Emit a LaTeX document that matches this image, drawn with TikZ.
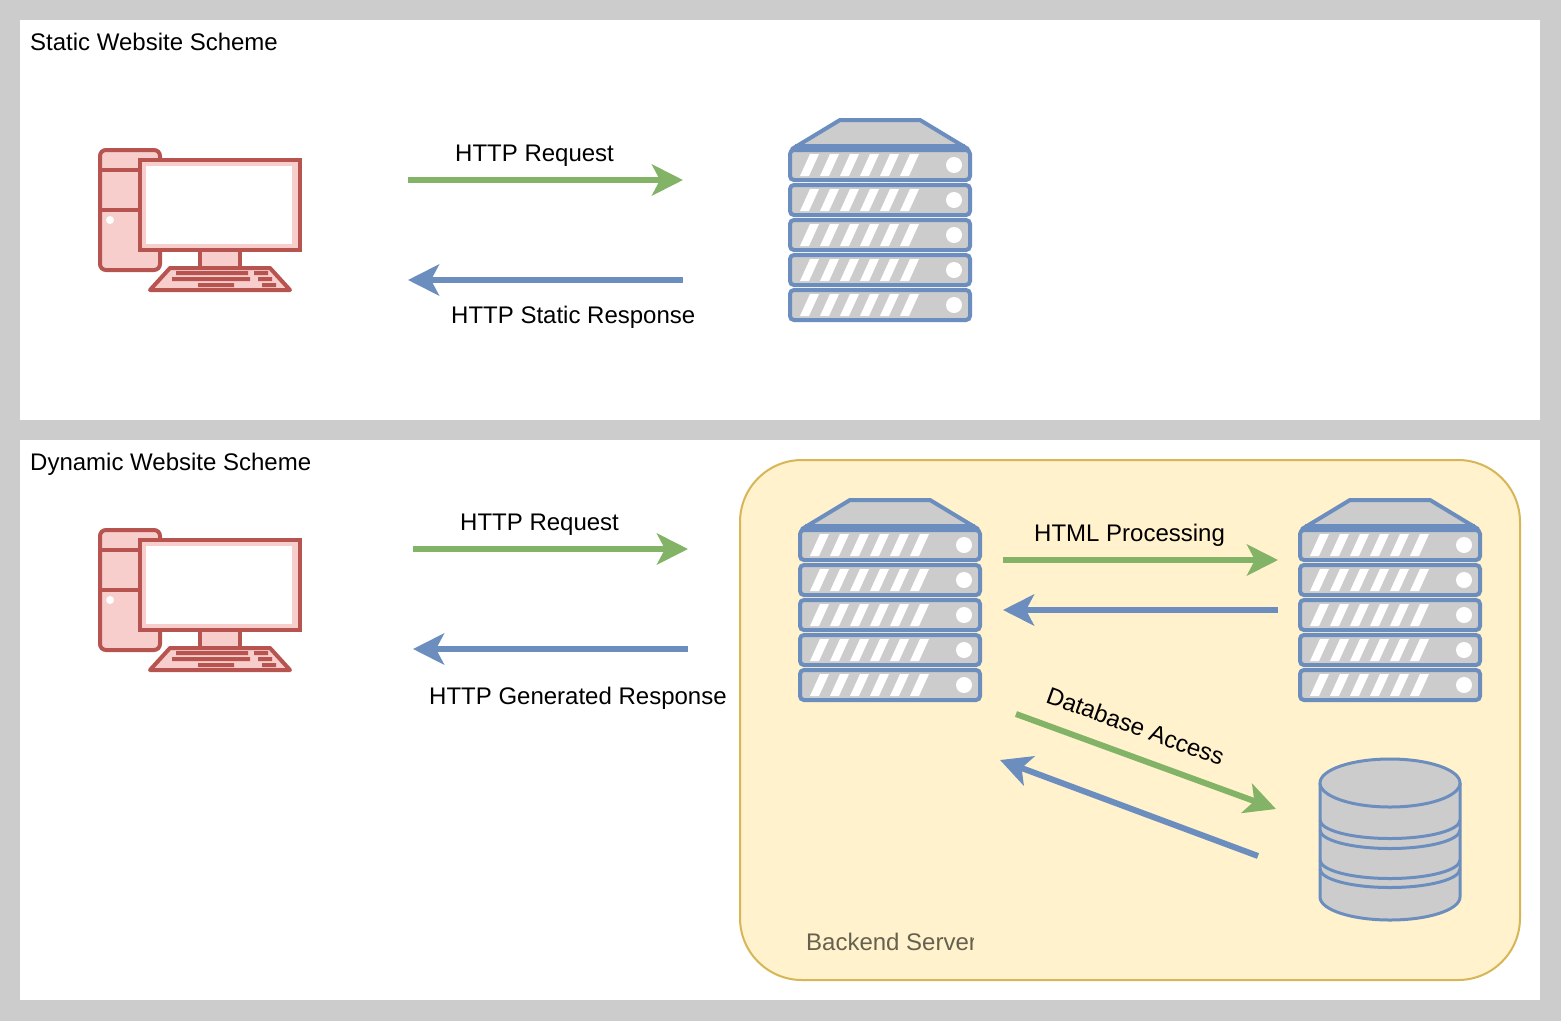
\documentclass[tikz,border=0pt]{standalone}
\usepackage{fontspec}
\setmainfont{Liberation Sans}
\usetikzlibrary{arrows.meta}
\definecolor{redline}{HTML}{B85450}
\definecolor{redfill}{HTML}{F8CECC}
\definecolor{blueline}{HTML}{6C8EBF}
\definecolor{greenline}{HTML}{82B366}
\definecolor{greyfill}{HTML}{CCCCCC}
\definecolor{yellowfill}{HTML}{FFF2CC}
\definecolor{yellowline}{HTML}{D6B656}
\definecolor{backtext}{HTML}{66614F}
\tikzset{
  panel/.style = {fill=white},
  label/.style = {font=\fontsize{24}{28}\selectfont,inner sep=0pt},
  edge/.style = {line width=6pt,-{Stealth[length=31pt,width=31pt,inset=8pt]}},
  req/.style = {edge,draw=greenline,color=greenline},
  resp/.style = {edge,draw=blueline,color=blueline},
  computer/.pic = {
    \draw[redline,fill=redfill,line width=4pt,rounded corners=6pt] (0,0) rectangle (60,120);
    \draw[redline,line width=4pt] (0,20) -- (60,20) (0,60) -- (60,60);
    \fill[white] (10,70) circle (4pt);
    \draw[redline,fill=redfill,line width=4pt] (100,95) rectangle (140,118);
    \draw[redline,fill=redfill,line width=4pt] (40,10) rectangle (200,100);
    \fill[white] (46,16) rectangle (192,94);
    \draw[redline,fill=redfill,line width=4pt,line join=round] (70,118) -- (170,118) -- (190,140) -- (50,140) -- cycle;
    \fill[redline] (76,121) rectangle (148,125) (154,121) rectangle (168,125);
    \fill[redline] (72,127) rectangle (150,131) (158,127) rectangle (172,131);
    \fill[redline] (98,133) rectangle (134,137) (162,133) rectangle (176,137);
  },
  serverunit/.pic = {
    \draw[blueline,fill=greyfill,line width=4pt,rounded corners=4pt] (0,0) rectangle (180,30);
    \foreach \i in {0,...,5}
      \fill[white] (10+20*\i,26) -- (19+20*\i,26) -- (29+20*\i,4) -- (20+20*\i,4) -- cycle;
    \fill[white] (164,15) circle (8pt);
  },
  server/.pic = {
    \draw[blueline,fill=greyfill,line width=4pt,line join=round] (2,29) -- (50,0) -- (130,0) -- (178,29) -- cycle;
    \foreach \j in {0,...,4}
      \pic at (0,30+35*\j) {serverunit};
    \draw[blueline,line width=8pt] (5,27.5) -- (175,27.5);
  },
}
\begin{document}
\begin{tikzpicture}[x=1pt,y=-1pt]
  \useasboundingbox (0,0) rectangle (1561,1021);
  \fill[greyfill] (0,0) rectangle (1561,1021);
  \fill[panel] (20,20) rectangle (1540,420);
  \fill[panel] (20,440) rectangle (1540,1000);
  \draw[yellowline,fill=yellowfill,line width=2pt,rounded corners=62pt] (740,460) rectangle (1520,980);

  \node[label,anchor=base west] (statictitle) at (30,50) {Static Website Scheme};
  \node[label,anchor=base west] (dyntitle) at (30,470) {Dynamic Website Scheme};

  % static scheme
  \pic at (100,150) {computer};
  \pic at (790,120) {server};
  \coordinate (sreqa) at (408,180);
  \coordinate (sreqb) at (683,180);
  \coordinate (srespa) at (683,280);
  \coordinate (srespb) at (408,280);
  \draw[req] (sreqa) -- (sreqb);
  \draw[resp] (srespa) -- (srespb);
  \node[label,anchor=base west] (sreqlabel) at (455,161) {HTTP Request};
  \node[label,anchor=base west] (sresplabel) at (451,323) {HTTP Static Response};

  % dynamic scheme
  \pic at (100,530) {computer};
  \pic at (800,500) {server};
  \pic at (1300,500) {server};
  \coordinate (dreqa) at (413,549);
  \coordinate (dreqb) at (688,549);
  \coordinate (drespa) at (688,649);
  \coordinate (drespb) at (413,649);
  \coordinate (htmla) at (1003,560);
  \coordinate (htmlb) at (1278,560);
  \coordinate (htmlc) at (1278,610);
  \coordinate (htmld) at (1003,610);
  \coordinate (dba) at (1016,714);
  \coordinate (dbb) at (1276,809);
  \coordinate (dbc) at (1258,856);
  \coordinate (dbd) at (1000,760);
  \draw[req] (dreqa) -- (dreqb);
  \draw[resp] (drespa) -- (drespb);
  \draw[req] (htmla) -- (htmlb);
  \draw[resp] (htmlc) -- (htmld);
  \draw[req] (dba) -- (dbb);
  \draw[resp] (dbc) -- (dbd);
  \node[label,anchor=base west] (dreqlabel) at (460,530) {HTTP Request};
  \node[label,anchor=base west] (dresplabel) at (429,704) {HTTP Generated Response};
  \node[label,anchor=base west] (htmllabel) at (1034,541) {HTML Processing};
  \node[label,rotate=-20] (dblabel) at (1135.5,726) {Database Access};

  % database
  \draw[blueline,fill=greyfill,line width=3pt] (1320,783) -- (1320,897) arc[start angle=180,end angle=360,x radius=70pt,y radius=23pt] -- (1460,783);
  \draw[blueline,fill=greyfill,line width=3pt] (1390,783) ellipse[x radius=70pt,y radius=24pt];
  \foreach \y in {820,830,860,869}
    \draw[blueline,line width=3pt] (1320,\y) arc[start angle=180,end angle=360,x radius=70pt,y radius=18.5pt];

  \begin{scope}
    \clip (790,920) rectangle (973.5,970);
    \node[label,anchor=base west,text=backtext] (backlabel) at (806,950) {Backend Server};
  \end{scope}
\end{tikzpicture}
\end{document}
